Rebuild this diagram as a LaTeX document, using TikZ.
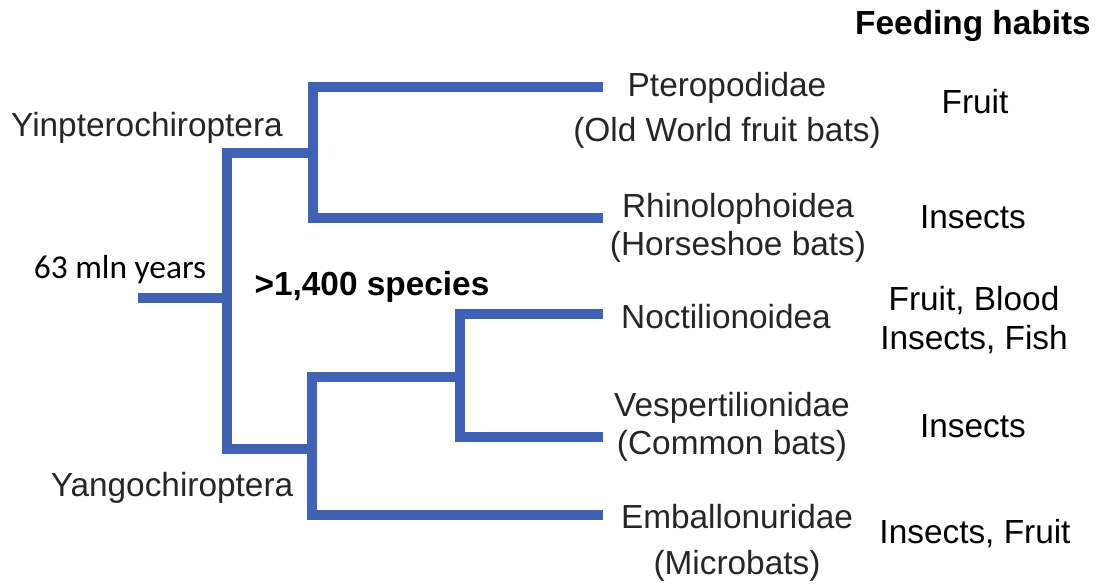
\documentclass[tikz,border=0pt]{standalone}
\usepackage{fontspec}
\setmainfont{Liberation Sans}
\newfontfamily\calibrifont{Carlito}
\usetikzlibrary{positioning}
\definecolor{treeblue}{RGB}{63,98,180}
\definecolor{labelgray}{RGB}{38,38,38}

\begin{document}
\begin{tikzpicture}[x=0.02cm, y=-0.02cm,
    branch/.style={treeblue, line width=5.67pt, line join=miter, line cap=butt},
    taxon/.style={text=labelgray, font=\fontsize{19}{22}\selectfont, align=center, inner sep=0pt},
    food/.style={text=black, font=\fontsize{19}{22}\selectfont, align=center, inner sep=0pt}]
    \useasboundingbox (0,0) rectangle (1102,583);

    % tree
    \coordinate (root) at (138,298);
    \coordinate (split) at (227,298);
    \coordinate (yin) at (313,153);
    \coordinate (yang) at (312,449);
    \coordinate (nv) at (460,377);
    \coordinate (tipPt) at (603,87);
    \coordinate (tipRh) at (603,218);
    \coordinate (tipNo) at (603,314);
    \coordinate (tipVe) at (603,437);
    \coordinate (tipEm) at (603,515);

    \draw[branch] (root) -- (split);
    \draw[branch] (yin) -| (split) |- (yang);
    \draw[branch] (tipPt) -| (yin) |- (tipRh);
    \draw[branch] (tipNo) -| (nv) |- (tipVe);
    \draw[branch] (nv) -| (yang) |- (tipEm);

    % clades
    \node[taxon] (yinlbl) at (147,128) {Yinpterochiroptera};
    \node[taxon] (yanglbl) at (172,488) {Yangochiroptera};
    \node[taxon, text=black, font=\calibrifont\fontsize{19}{22}\selectfont] (age) at (120,270) {63 mln years};
    \node[food, font=\bfseries\fontsize{19}{22}\selectfont] (count) at (372,287) {>1,400 species};

    % families
    \node[taxon] (pter) at (727,110) {Pteropodidae\\[3.5pt](Old World fruit bats)};
    \node[taxon] (rhin) at (738,228) {Rhinolophoidea\\(Horseshoe bats)};
    \node[taxon] (noct) at (726,317) {Noctilionoidea};
    \node[taxon] (vesp) at (732,427) {Vespertilionidae\\(Common bats)};
    \node[taxon] (emba) at (737,543) {Emballonuridae\\[4pt](Microbats)};

    % feeding habits
    \node[food, font=\bfseries\fontsize{19}{22}\selectfont] (head) at (973,26) {Feeding habits};
    \node[food] (fPt) at (975,102) {Fruit};
    \node[food] (fRh) at (973,217) {Insects};
    \node[food] (fNo) at (974,320) {Fruit, Blood\\Insects, Fish};
    \node[food] (fVe) at (973,426) {Insects};
    \node[food] (fEm) at (975,534) {Insects, Fruit};
\end{tikzpicture}
\end{document}
